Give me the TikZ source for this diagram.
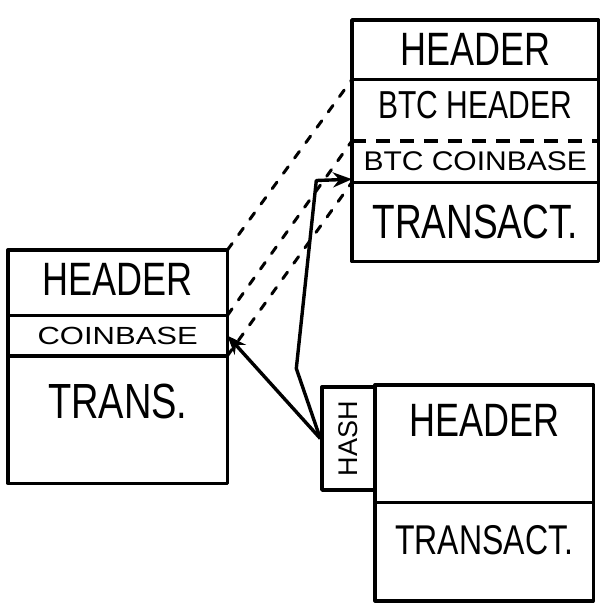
\documentclass[tikz,border=0pt]{standalone}
\usepackage{fontspec}
\setmainfont{Liberation Sans}
\usetikzlibrary{positioning, arrows.meta}
\newcommand{\hw}[1]{\scalebox{1}[1.3]{#1}}

\begin{document}
\begin{tikzpicture}[
  x=1pt, y=-1pt,
  >={Stealth[length=19pt, width=15pt]},
  row/.style={inner sep=0pt, anchor=north west},
  fs/.style={font=\fontsize{#1}{#1}\selectfont},
  box/.style={line width=3.4pt, line join=round},
  link/.style={->, line width=3.4pt, line join=round},
  map/.style={line width=3pt, dash pattern=on 8pt off 11pt, line cap=round}
]
  \useasboundingbox (0,0) rectangle (607,603);

  % --- Bloque de arriba (merge-mined) ---
  \node[row, fs=36, minimum width=246, minimum height=59] (thdr) at (352,20) {\hw{HEADER}};
  \node[row, below=0pt of thdr, fs=30, minimum width=246, minimum height=61, text depth=10pt] (tbtch) {\hw{BTC HEADER}};
  \node[row, below=0pt of tbtch, fs=30, minimum width=246, minimum height=41] (tbtcc) {\scalebox{1}[0.9]{BTC COINBASE}};
  \node[row, below=0pt of tbtcc, fs=37, minimum width=246, minimum height=79] (ttx) {\hw{TRANSACT.}};
  \draw[box] (thdr.north west) rectangle (ttx.south east);
  \draw[box] (thdr.south west) -- (thdr.south east);
  \draw[box, dash pattern=on 14pt off 10pt] (tbtch.south west) -- (tbtch.south east);
  \draw[box] (tbtcc.south west) -- (tbtcc.south east);

  % --- Bloque de la izquierda ---
  \node[row, fs=36, minimum width=219, minimum height=65, text depth=6pt] (lhdr) at (8,250) {\hw{HEADER}};
  \node[row, below=0pt of lhdr, fs=31, minimum width=219, minimum height=40] (lcoin) {\scalebox{1}[0.8]{COINBASE}};
  \node[row, below=0pt of lcoin, fs=38, minimum width=219, minimum height=127, text depth=36pt] (ltx) {\hw{TRANS.}};
  \draw[box] (lhdr.north west) rectangle (ltx.south east);
  \draw[box] (lhdr.south west) -- (lhdr.south east);
  \draw[box] (lcoin.south west) -- (lcoin.south east);

  % --- Bloque de abajo con hash ---
  \node[row, fs=36, minimum width=218, minimum height=117, text depth=46pt] (bhdr) at (375,385) {\hw{HEADER}};
  \node[row, below=0pt of bhdr, fs=32, minimum width=218, minimum height=98, text depth=24pt] (btx) {\hw{TRANSACT.}};
  \draw[box] (bhdr.north west) rectangle (btx.south east);
  \draw[box] (bhdr.south west) -- (bhdr.south east);
  \node[draw, box, inner sep=0pt, fs=27, minimum width=53, minimum height=103] (hash) at (348.5,438.5) {\rotatebox{90}{HASH}};

  % --- Flechas ---
  \draw[link] (hash.west) -- (lcoin.east);
  \draw[link] (hash.west) -- ++(-24,-70) -- ++(20,-188) -- ([yshift=3pt]tbtcc.south west);

  % --- Correspondencias (punteadas) ---
  \draw[map] (lhdr.north east) -- (tbtch.north west);
  \draw[map] (lcoin.north east) -- (tbtcc.north west);
  \draw[map] (lcoin.south east) -- (tbtcc.south west);
\end{tikzpicture}
\end{document}
